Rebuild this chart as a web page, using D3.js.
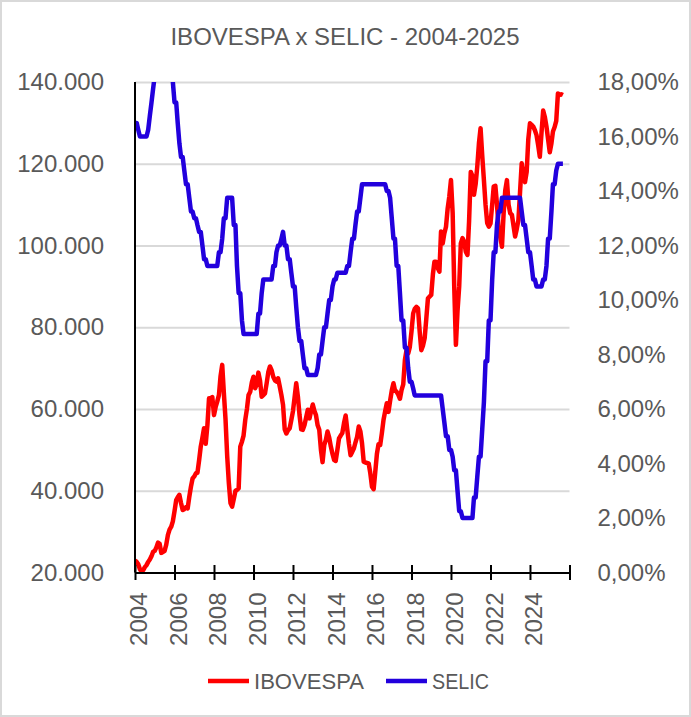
<!DOCTYPE html>
<html>
<head>
<meta charset="utf-8">
<script src="https://cdn.jsdelivr.net/npm/d3@7"></script>
<style>
  body { margin: 0; background: #fff; }
  text { font-family: "Liberation Sans", Arial, sans-serif; fill: #595959; }
</style>
</head>
<body>
<svg id="chart" width="691" height="717"></svg>
<script>
// monthly series, Jan 2004 .. Sep 2025
const startYear = 2004;

// IBOVESPA, in thousands of points (one line per year)
const ibovespa = [
  23.0, 22.6, 22.0, 20.8, 20.2, 20.6, 21.3, 21.8, 22.6, 23.2, 24.0, 25.1,
  25.3, 26.2, 27.3, 27.0, 24.8, 25.0, 25.3, 26.8, 29.2, 30.5, 31.2, 32.5,
  35.0, 37.7, 38.4, 39.0, 37.0, 35.3, 35.5, 36.0, 35.7, 38.5, 41.0, 43.0,
  43.5, 44.3, 44.4, 47.5, 50.8, 53.0, 55.3, 51.5, 56.0, 62.6, 62.6, 62.9,
  58.5, 60.5, 61.8, 63.4, 68.0, 70.8, 64.0, 57.5, 48.5, 42.0, 37.0, 36.1,
  38.0, 40.0, 40.2, 40.6, 50.8, 52.0, 53.5, 57.3, 60.0, 63.4, 64.2, 66.5,
  67.9, 65.1, 66.0, 68.9, 67.0, 63.0, 63.4, 63.8, 66.3, 69.0, 70.4, 69.5,
  67.9, 67.0, 66.7, 67.5, 65.5, 63.4, 61.0, 55.0, 54.0, 54.8, 55.3, 57.3,
  59.5, 63.0, 66.3, 63.0, 58.5, 55.0, 54.9, 56.1, 58.0, 59.8, 57.7, 59.5,
  61.1, 59.5, 58.5, 56.0, 54.9, 50.0, 47.0, 51.2, 52.5, 54.5, 53.0, 50.8,
  49.0, 47.5, 47.3, 50.0, 52.8, 53.5, 54.1, 56.5, 58.4, 55.0, 51.5, 48.7,
  49.5, 50.4, 51.8, 53.2, 55.7, 54.5, 51.6, 47.1, 46.9, 46.8, 46.7, 44.3,
  41.0, 40.4, 44.5, 49.0, 51.4, 51.2, 54.0, 57.3, 59.5, 61.4, 59.3, 62.0,
  64.5, 66.3, 64.6, 64.2, 63.5, 62.5, 64.6, 66.0, 72.0, 74.4, 73.6, 75.2,
  79.0, 83.4, 84.5, 85.0, 84.6, 79.0, 74.4, 75.5, 77.3, 82.0, 87.1, 87.5,
  87.9, 93.0, 96.0, 96.0, 94.5, 93.6, 103.4, 100.5, 103.0, 104.6, 109.1, 112.0,
  116.0, 108.0, 90.0, 75.7, 84.0, 90.0, 100.5, 101.8, 101.0, 98.5, 97.7, 106.0,
  118.0, 117.0, 112.4, 115.0, 119.3, 125.0, 128.7, 122.0, 116.0, 110.0, 105.5, 104.6,
  105.4, 110.0, 114.4, 114.6, 110.0, 104.0, 102.0, 99.7, 108.0, 113.5, 116.0, 110.0,
  107.9, 107.5, 105.0, 102.2, 104.0, 106.2, 113.0, 120.1, 117.5, 115.5, 118.0, 126.0,
  129.9, 129.5, 129.1, 128.2, 127.0, 124.5, 121.7, 127.5, 133.0, 131.5, 129.1, 126.0,
  122.8, 125.0, 127.9, 129.0, 130.5, 137.2, 136.8, 137.0, 136.8
];

// SELIC target rate, % per year
const selic = [
  16.5, 16.5, 16.25, 16, 16, 16, 16, 16, 16.25, 16.75, 17.25, 17.75,
  18.25, 18.75, 19.25, 19.5, 19.75, 19.75, 19.75, 19.75, 19.5, 19, 18.5, 18,
  17.25, 17.25, 16.5, 15.75, 15.25, 15.25, 14.75, 14.25, 14.25, 13.75, 13.25, 13.25,
  13, 13, 12.75, 12.5, 12.5, 12, 11.5, 11.5, 11.25, 11.25, 11.25, 11.25,
  11.25, 11.25, 11.25, 11.75, 11.75, 12.25, 13, 13, 13.75, 13.75, 13.75, 13.75,
  12.75, 12.75, 11.25, 10.25, 10.25, 9.25, 8.75, 8.75, 8.75, 8.75, 8.75, 8.75,
  8.75, 8.75, 8.75, 9.5, 9.5, 10.25, 10.75, 10.75, 10.75, 10.75, 10.75, 10.75,
  11.25, 11.25, 11.75, 12, 12, 12.25, 12.5, 12, 12, 11.5, 11.5, 11,
  10.5, 10.5, 9.75, 9, 8.5, 8.5, 8, 7.5, 7.5, 7.25, 7.25, 7.25,
  7.25, 7.25, 7.25, 7.5, 8, 8, 8.5, 9, 9, 9.5, 10, 10,
  10.5, 10.75, 10.75, 11, 11, 11, 11, 11, 11, 11.25, 11.25, 11.75,
  12.25, 12.25, 12.75, 13.25, 13.25, 13.75, 14.25, 14.25, 14.25, 14.25, 14.25, 14.25,
  14.25, 14.25, 14.25, 14.25, 14.25, 14.25, 14.25, 14.25, 14.25, 14, 14, 13.75,
  13, 12.25, 12.25, 11.25, 11.25, 10.25, 9.25, 9.25, 8.25, 8.25, 7.5, 7,
  7, 6.75, 6.5, 6.5, 6.5, 6.5, 6.5, 6.5, 6.5, 6.5, 6.5, 6.5,
  6.5, 6.5, 6.5, 6.5, 6.5, 6.5, 6.5, 6, 5.5, 5, 5, 4.5,
  4.5, 4.25, 3.75, 3.75, 3, 2.25, 2.25, 2, 2, 2, 2, 2,
  2, 2, 2.75, 2.75, 3.5, 4.25, 4.25, 5.25, 6.25, 7.75, 7.75, 9.25,
  9.25, 10.75, 11.75, 11.75, 12.75, 13.25, 13.25, 13.75, 13.75, 13.75, 13.75, 13.75,
  13.75, 13.75, 13.75, 13.75, 13.75, 13.75, 13.75, 13.25, 12.75, 12.75, 12.25, 11.75,
  11.75, 11.25, 10.75, 10.75, 10.5, 10.5, 10.5, 10.5, 10.75, 10.75, 11.25, 12.25,
  12.25, 13.25, 14.25, 14.25, 14.75, 15, 15, 15, 15
];

const leftTicks = [20, 40, 60, 80, 100, 120, 140];
const rightTicks = [0, 2, 4, 6, 8, 10, 12, 14, 16, 18];
const yearTicks = d3.range(2004, 2027, 2);
const yearLabels = d3.range(2004, 2025, 2);

const titleText = "IBOVESPA x SELIC - 2004-2025";
const seriesNames = ["IBOVESPA", "SELIC"];
const seriesColors = ["#ff0000", "#2200dd"];

// layout
const plot = { left: 135, right: 569.5, top: 82, bottom: 572.5 };

const ptBR = d3.formatLocale({
  decimal: ",", thousands: ".", grouping: [3], currency: ["R$", ""]
});
const fmtPoints = ptBR.format(",.0f");
const fmtPct = ptBR.format(".2f");

const svg = d3.select("#chart");

// chart area border
svg.append("rect")
    .attr("x", 1).attr("y", 1).attr("width", 689).attr("height", 715)
    .attr("fill", "#fff").attr("stroke", "#d9d9d9").attr("stroke-width", 2);

const x = d3.scaleTime()
    .domain([new Date(2004, 0, 1), new Date(2026, 0, 1)])
    .range([plot.left, plot.right]);
const yLeft = d3.scaleLinear().domain([20, 140]).range([plot.bottom, plot.top]);
const yRight = d3.scaleLinear().domain([0, 18]).range([plot.bottom, plot.top]);

const months = ibovespa.map((d, i) => new Date(startYear, i, 1));

// title
svg.append("text")
    .attr("x", 345).attr("y", 45)
    .attr("text-anchor", "middle")
    .attr("font-size", 24)
    .text(titleText);

// horizontal gridlines + left labels
const leftAxis = svg.append("g")
    .attr("transform", `translate(${plot.left},0)`)
    .call(d3.axisLeft(yLeft)
        .tickValues(leftTicks)
        .tickSize(-(plot.right - plot.left))
        .tickPadding(31)
        .tickFormat(d => fmtPoints(d * 1000)));
leftAxis.select(".domain").remove();
leftAxis.selectAll(".tick line")
    .attr("stroke", "#d9d9d9").attr("stroke-width", 2);
leftAxis.selectAll(".tick text")
    .attr("font-size", 24).attr("fill", "#595959");

// right labels
const rightAxis = svg.append("g")
    .attr("transform", `translate(${plot.right},0)`)
    .call(d3.axisRight(yRight)
        .tickValues(rightTicks)
        .tickSize(0)
        .tickPadding(28)
        .tickFormat(d => fmtPct(d) + "%"));
rightAxis.select(".domain").remove();
rightAxis.selectAll(".tick text")
    .attr("font-size", 24).attr("fill", "#595959");

// lines, clipped to the plot area
svg.append("clipPath").attr("id", "plot-clip")
  .append("rect")
    .attr("x", plot.left).attr("y", plot.top)
    .attr("width", plot.right - plot.left)
    .attr("height", plot.bottom - plot.top);

const lines = svg.append("g").attr("clip-path", "url(#plot-clip)");

const ibovLine = d3.line()
    .x((d, i) => x(months[i]))
    .y(d => yLeft(d));
const selicLine = d3.line()
    .x((d, i) => x(months[i]))
    .y(d => yRight(d));

lines.append("path")
    .datum(ibovespa)
    .attr("d", ibovLine)
    .attr("fill", "none")
    .attr("stroke", seriesColors[0])
    .attr("stroke-width", 4.5)
    .attr("stroke-linejoin", "round");

lines.append("path")
    .datum(selic)
    .attr("d", selicLine)
    .attr("fill", "none")
    .attr("stroke", seriesColors[1])
    .attr("stroke-width", 4.5)
    .attr("stroke-linejoin", "round");

// left axis line
svg.append("line")
    .attr("x1", plot.left).attr("x2", plot.left)
    .attr("y1", plot.top).attr("y2", plot.bottom)
    .attr("stroke", "#000").attr("stroke-width", 2);

// bottom date axis
const xAxis = svg.append("g")
    .attr("transform", `translate(0,${plot.bottom})`)
    .call(d3.axisBottom(x)
        .tickValues(yearTicks.map(y => new Date(y, 0, 1)))
        .tickSize(0)
        .tickFormat(""));
xAxis.select(".domain")
    .attr("stroke", "#000").attr("stroke-width", 2);
xAxis.selectAll(".tick line")
    .attr("y1", -7.5).attr("y2", 7.5)
    .attr("stroke", "#000").attr("stroke-width", 2);

svg.append("g")
  .selectAll("text")
  .data(yearLabels)
  .join("text")
    .attr("transform", d => `translate(${x(new Date(d, 0, 1)) + 4},${plot.bottom + 20}) rotate(-90)`)
    .attr("text-anchor", "end")
    .attr("dy", "0.35em")
    .attr("font-size", 24)
    .text(d => d);

// legend
const legendItems = [
  { name: seriesNames[0], color: seriesColors[0], x: 208, width: 110 },
  { name: seriesNames[1], color: seriesColors[1], x: 386, width: 57 }
];
const legend = svg.append("g");
legendItems.forEach(item => {
  legend.append("line")
      .attr("x1", item.x).attr("x2", item.x + 41)
      .attr("y1", 681).attr("y2", 681)
      .attr("stroke", item.color).attr("stroke-width", 4.5);
  legend.append("text")
      .attr("x", item.x + 46).attr("y", 689)
      .attr("font-size", 22)
      .attr("textLength", item.width)
      .attr("lengthAdjust", "spacingAndGlyphs")
      .text(item.name);
});
</script>
</body>
</html>
